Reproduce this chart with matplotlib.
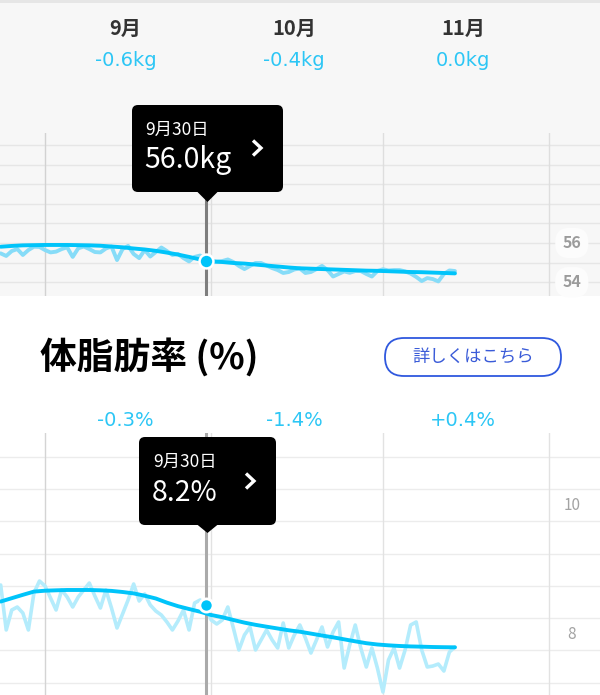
import matplotlib
matplotlib.use('Agg')
import matplotlib.pyplot as plt
from matplotlib.patches import FancyBboxPatch, Polygon, Rectangle
from matplotlib.transforms import blended_transform_factory
from matplotlib.lines import Line2D

plt.rcParams['font.family'] = ['Noto Sans CJK JP', 'DejaVu Sans']

# ---------------- data ----------------
# day index: 0 = Sep 1
raw_days = list(range(-8, 75))
trend_days = list(range(-8, 75, 2))

weight_raw = [55.47, 55.34, 55.59, 55.69, 55.39, 55.64, 55.81, 55.80,
              55.64, 55.52, 55.56, 55.69, 55.78, 55.29, 55.73, 55.82, 55.69, 55.54,
              55.52, 55.72, 55.82, 55.13, 55.69, 55.85, 55.44, 55.23, 55.64, 55.31,
              55.54, 55.77, 55.59, 55.39, 55.44, 55.23, 55.06, 55.29, 55.36, 55.18,
              55.08, 55.05, 55.08, 55.16, 55.03, 54.83, 54.67, 54.83, 54.98, 54.98,
              54.85, 54.72, 54.62, 54.47, 54.52, 54.65, 54.70, 54.47, 54.52, 54.67,
              54.83, 54.62, 54.29, 54.42, 54.55, 54.48, 54.57, 54.57, 54.42, 54.29,
              54.57, 54.66, 54.60, 54.62, 54.62, 54.55, 54.44, 54.27, 54.06, 54.21,
              54.16, 54.04, 54.42, 54.60, 54.57]
weight_trend = [55.81, 55.85, 55.88, 55.89, 55.90, 55.90, 55.90, 55.89, 55.88, 55.86,
                55.82, 55.78, 55.72, 55.67, 55.60, 55.51, 55.41, 55.29, 55.16, 55.06,
                55.03, 54.98, 54.95, 54.90, 54.85, 54.80, 54.75, 54.71, 54.69, 54.67,
                54.65, 54.63, 54.61, 54.59, 54.58, 54.56, 54.54, 54.52, 54.51, 54.49,
                54.47, 54.45]

fat_raw = [8.764, 8.067, 8.377, 8.423, 8.330, 8.067, 8.640, 8.826,
           8.749, 8.563, 8.377, 8.687, 8.578, 8.423, 8.578, 8.687, 8.795, 8.594,
           8.408, 8.687, 8.408, 8.098, 8.315, 8.532, 8.780, 8.516, 8.625, 8.454,
           8.361, 8.299, 8.191, 8.067, 8.206, 8.377, 8.067, 8.485, 8.532, 8.439,
           8.222, 8.160, 8.222, 8.423, 8.098, 7.757, 7.989, 8.113, 7.757, 7.912,
           8.067, 7.912, 7.788, 8.175, 7.788, 7.989, 8.144, 7.943, 7.710, 7.912,
           8.113, 7.803, 8.036, 8.191, 7.477, 7.834, 8.144, 7.788, 7.493, 7.788,
           7.477, 7.105, 7.602, 7.788, 7.477, 7.757, 8.144, 8.191, 7.757, 7.493,
           7.508, 7.539, 7.431, 7.726, 7.803]
fat_trend = [8.508, 8.560, 8.612, 8.662, 8.676, 8.682, 8.687, 8.687, 8.687, 8.682,
             8.673, 8.656, 8.634, 8.598, 8.555, 8.491, 8.436, 8.392, 8.350, 8.299,
             8.265, 8.222, 8.181, 8.147, 8.118, 8.090, 8.062, 8.040, 8.011, 7.981,
             7.953, 7.922, 7.891, 7.862, 7.842, 7.829, 7.819, 7.812, 7.808, 7.803,
             7.800, 7.798]

selected_day = 29
selected_date = '9月30日'
selected_weight = 55.10
selected_weight_label = '56.0kg'
selected_fat = 8.45
selected_fat_label = '8.2%'

month_labels = ['9月', '10月', '11月']
month_centers = [14.5, 45, 75.5]
month_bounds = [0, 30, 61, 91]
weight_changes = ['-0.6kg', '-0.4kg', '0.0kg']
fat_changes = ['-0.3%', '-1.4%', '+0.4%']

weight_grid = [54, 55, 56, 57, 58, 59, 60, 61]
weight_ticks = [56, 54]
fat_grid = [7.25, 7.75, 8.25, 8.75, 9.25, 9.75, 10.25, 10.75]
fat_ticks = [10, 8]

title = '体脂肪率 (%)'
button_text = '詳しくはこちら'

# ---------------- figure ----------------
W, H = 600, 695
fig = plt.figure(figsize=(W / 100, H / 100), dpi=100)
fig.patch.set_facecolor('white')
T = fig.dpi_scale_trans


def P(x, y):
    return (x / 100.0, (H - y) / 100.0)


CYAN = '#00c4fa'
CYAN_TXT = '#2cc6f5'
NUM_FONT = ['DejaVu Sans', 'Noto Sans CJK JP']

# backgrounds
fig.patches.append(Rectangle(P(0, 296), 6.0, 2.96, transform=T, fc='#f7f7f7', ec='none', zorder=-10))
fig.patches.append(Rectangle(P(0, 3), 6.0, 0.03, transform=T, fc='#e6e6e6', ec='none', zorder=-9))

XLIM = (-8.123, 100.18)


def style_axes(ax, grid_vals, hcolor, vcolor, vfirst):
    ax.set_facecolor('none')
    ax.set_xlim(*XLIM)
    for s in ax.spines.values():
        s.set_visible(False)
    ax.set_xticks([])
    ax.set_yticks([])
    for g in grid_vals:
        ax.axhline(g, color=hcolor, lw=1.0, zorder=1)
    for i, b in enumerate(month_bounds):
        ax.axvline(b, color=vfirst if i == 0 else vcolor, lw=1.0, zorder=1)


# ---------- upper (weight) ----------
ax1 = fig.add_axes([0, (H - 296) / H, 1, (296 - 133) / H])
ax1.set_ylim(56 - (296 - 243) / 19.6, 56 + (243 - 133) / 19.6)
style_axes(ax1, weight_grid, '#e6e6e6', '#dedede', '#d2d2d2')
ax1.plot(raw_days, weight_raw, color='#86dcf8', lw=2.8, solid_joinstyle='round',
         solid_capstyle='round', zorder=3)
ax1.plot(trend_days, weight_trend, color=CYAN, lw=2.8, solid_capstyle='round', zorder=4)
ax1.axvline(selected_day, ymin=0, ymax=(296 - 199) / (296 - 133), color='#7e7e7e', lw=2.2, zorder=2)
ax1.plot([selected_day], [selected_weight], 'o', ms=10, mfc=CYAN, mec='white', mew=1.8, zorder=6)
for v in weight_ticks:
    ax1.text(0.953, v, str(v), transform=ax1.get_yaxis_transform(), ha='center', va='center',
             fontsize=11.5, color='#9b9b9b', fontweight='semibold', zorder=7,
             bbox=dict(boxstyle='round,pad=0.45,rounding_size=0.9', fc='#fcfcfc', ec='none'))

# ---------- lower (fat) ----------
ax2 = fig.add_axes([0, 0, 1, (695 - 433) / H])
ax2.set_ylim(10 - (695 - 505.3) / 64.5, 10 + (505.3 - 433) / 64.5)
style_axes(ax2, fat_grid, '#ececec', '#e2e2e2', '#d4d4d4')
ax2.plot(raw_days, fat_raw, color='#b4ecfc', lw=2.6, solid_joinstyle='round',
         solid_capstyle='round', zorder=3)
ax2.plot(trend_days, fat_trend, color=CYAN, lw=2.8, solid_capstyle='round', zorder=4)
ax2.axvline(selected_day, color='#aaaaaa', lw=2.2, zorder=2)
ax2.plot([selected_day], [selected_fat], 'o', ms=9.5, mfc=CYAN, mec='white', mew=2.0, zorder=6)
for v in fat_ticks:
    ax2.text(0.953, v, str(v), transform=ax2.get_yaxis_transform(), ha='center', va='center',
             fontsize=11, color='#a3a3a3', zorder=7)

# ---------- header texts ----------
bt1 = blended_transform_factory(ax1.transData, T)
for c, m, ch in zip(month_centers, month_labels, weight_changes):
    fig.text(c, P(0, 28)[1], m, transform=bt1, ha='center', va='center', fontsize=14.5,
             fontweight='bold', color='#333333')
    fig.text(c, P(0, 60)[1], ch, transform=bt1, ha='center', va='center', fontsize=14,
             color=CYAN_TXT, family=NUM_FONT)
bt2 = blended_transform_factory(ax2.transData, T)
for c, ch in zip(month_centers, fat_changes):
    fig.text(c, P(0, 420)[1], ch, transform=bt2, ha='center', va='center', fontsize=14,
             color=CYAN_TXT, family=NUM_FONT)

fig.text(*P(40, 357), title, transform=T, ha='left', va='center', fontsize=26.5,
         fontweight='bold', color='#000000')

btn = FancyBboxPatch(P(385, 376), 1.76, 0.38, transform=T,
                     boxstyle='round,pad=0,rounding_size=0.19', fc='white', ec='#2f58de', lw=1.3)
fig.patches.append(btn)
fig.text(*P(473, 357), button_text, transform=T, ha='center', va='center', fontsize=12.5,
         color='#3a5bd8')


# ---------- tooltips ----------
def tooltip(x0, y0, x1, y1, tip_y, date_y, val_y, chev_x, chev_y, val_text, tx):
    box = FancyBboxPatch(P(x0, y1), (x1 - x0) / 100, (y1 - y0) / 100, transform=T,
                         boxstyle='round,pad=0,rounding_size=0.06', fc='black', ec='none', zorder=5)
    fig.patches.append(box)
    xm = 207.5
    tri = Polygon([P(xm - 11, y1 - 1), P(xm + 11, y1 - 1), P(xm, tip_y)], closed=True,
                  transform=T, fc='black', ec='none', zorder=5)
    fig.patches.append(tri)
    fig.text(*P(tx, date_y), selected_date, transform=T, ha='left', va='center',
             fontsize=12.5, color='white', zorder=6)
    fig.text(*P(tx - 1, val_y), val_text, transform=T, ha='left', va='center',
             fontsize=20.5, color='white', zorder=6)
    xs, ys = zip(*[P(chev_x - 4, chev_y - 7.5), P(chev_x + 4, chev_y), P(chev_x - 4, chev_y + 7.5)])
    fig.lines.append(Line2D(xs, ys, transform=T, color='white', lw=2.4,
                            solid_joinstyle='miter', solid_capstyle='butt', zorder=6))


tooltip(132, 105, 283, 192, 202, 130, 160, 257, 148, selected_weight_label, 145)
tooltip(139, 437, 276, 525, 533, 462, 493, 250, 481, selected_fat_label, 153)

fig.savefig('out.png', dpi=100, facecolor=fig.get_facecolor())
